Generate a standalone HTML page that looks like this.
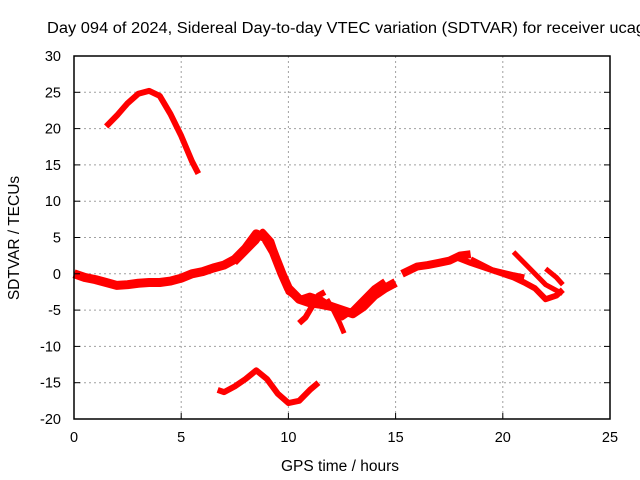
<!DOCTYPE html>
<html><head><meta charset="utf-8"><style>body{margin:0;background:#fff}svg{display:block;font-family:"Liberation Sans",sans-serif}</style></head>
<body>
<svg id="chart" width="640" height="480">
<text x="47" y="33" font-size="15.5" textLength="598" lengthAdjust="spacingAndGlyphs">Day 094 of 2024, Sidereal Day-to-day VTEC variation (SDTVAR) for receiver ucag</text>
<g id="grid"></g><g id="series"></g><g id="axes"></g>
<text x="340" y="471" font-size="15.5" text-anchor="middle">GPS time / hours</text>
<text transform="translate(19,238) rotate(-90)" font-size="15.5" text-anchor="middle">SDTVAR / TECUs</text>
</svg>
<script>
const xTicks=[0,5,10,15,20,25];
const yTicks=[30,25,20,15,10,5,0,-5,-10,-15,-20];
const arcTopX=[1.5,2,2.5,3,3.5,4,4.5,5,5.5,5.8];
const arcTopY=[20.3,21.8,23.5,24.8,25.2,24.5,22,19,15.5,13.8];
const mainX=[0,0.5,1,1.5,2,2.5,3,3.5,4,4.5,5,5.5,6,6.5,7,7.5,8,8.5,8.9,9.3,9.7,10,10.5,11,11.5,12,12.5,13,13.5,14,14.5,15];
const mainY=[0,-0.5,-0.8,-1.2,-1.6,-1.5,-1.3,-1.2,-1.2,-1,-0.6,0,0.3,0.8,1.2,2,3.5,5.5,5,3,0,-2,-3.5,-4,-4.2,-4.5,-5,-5.5,-4.5,-3,-2,-1.2];
const main2X=[7.5,8,8.5,8.8,9.2,9.6,10,10.5,11,11.5,12,12.5,13,13.5,14,14.5];
const main2Y=[1.5,3,4.5,5.8,4.5,1,-2.5,-3.5,-3,-3.5,-4.5,-6,-5,-3.5,-2,-1];
const branch1X=[10.5,10.8,11.1,11.4,11.7];
const branch1Y=[-6.8,-6,-4.5,-3,-2.5];
const branch2X=[11.8,12.1,12.4,12.6];
const branch2Y=[-3.5,-5,-6.8,-8.2];
const eveX=[15.3,16,16.5,17,17.5,18,18.5];
const eveY=[0,1,1.2,1.5,1.8,2.5,2.7];
const eve2X=[17.8,18.5,19,19.5,20,20.5,21,21.5,22,22.5,22.8];
const eve2Y=[2.3,1.5,1,0.5,0,-0.5,-1.2,-2,-3.5,-3,-2.2];
const eve3X=[18.5,19.5,20.5,21];
const eve3Y=[2,0.5,-0.2,-0.5];
const lateX=[20.5,21,21.5,22,22.5,22.8];
const lateY=[3,1.5,0,-1.5,-2.3,-2.7];
const late2X=[22,22.5,22.8];
const late2Y=[0.7,-0.5,-1.5];
const lowX=[6.7,7,7.5,8,8.5,9,9.5,10,10.5,11,11.4];
const lowY=[-16,-16.3,-15.5,-14.5,-13.3,-14.5,-16.5,-17.8,-17.5,-16,-15];
const X0=74,X1=610,Y0=419,Y1=56;
const sx=v=>X0+(v-0)/25*(X1-X0);
const sy=v=>Y0-(v+20)/50*(Y0-Y1);
const NS="http://www.w3.org/2000/svg";
function mk(t,a,p){const e=document.createElementNS(NS,t);for(const k in a)e.setAttribute(k,a[k]);p.appendChild(e);return e;}
const grid=document.getElementById('grid'),axes=document.getElementById('axes'),ser=document.getElementById('series');
xTicks.forEach(t=>{const x=sx(t);
 if(t>0&&t<25){const g=mk('line',{x1:x,x2:x,y1:Y1,y2:Y0,stroke:'#a0a0a0','stroke-dasharray':'2,3'},grid);
 
 }
 const tk=mk('line',{x1:x,x2:x,y1:Y0,y2:Y0-6,stroke:'#000'},axes);
 
 
 const tx=mk('text',{x:x,y:Y0+23,'font-size':14.5,'text-anchor':'middle'},axes);tx.textContent=t;
 
 });
yTicks.forEach(t=>{const y=sy(t);
 if(t>-20&&t<30){const g=mk('line',{x1:X0,x2:X1,y1:y,y2:y,stroke:'#a0a0a0','stroke-dasharray':'2,3'},grid);
 
 }
 const tk=mk('line',{x1:X0,x2:X0+6,y1:y,y2:y,stroke:'#000'},axes);
 
 
 const tk2=mk('line',{x1:X1,x2:X1-6,y1:y,y2:y,stroke:'#000'},axes);
 
 
 const tx=mk('text',{x:X0-13,y:y+5,'font-size':14.5,'text-anchor':'end'},axes);tx.textContent=t;
 
 });
const fr=mk('rect',{x:X0,y:Y1,width:X1-X0,height:Y0-Y1,fill:'none',stroke:'#000','stroke-width':1.5},axes);


[[arcTopX,arcTopY,6],[mainX,mainY,9],[main2X,main2Y,6],[branch1X,branch1Y,6],[branch2X,branch2Y,5],[eveX,eveY,8],[eve2X,eve2Y,6],[eve3X,eve3Y,6],[lateX,lateY,5],[late2X,late2Y,5],[lowX,lowY,6]].forEach(([xs,ys,w])=>{
 const pts=xs.map((x,i)=>sx(x)+','+sy(ys[i])).join(' ');
 const p=mk('polyline',{points:pts,fill:'none',stroke:'#ff0000','stroke-width':w,'stroke-linejoin':'round','stroke-linecap':'butt'},ser);
 
 });
</script>
</body></html>
